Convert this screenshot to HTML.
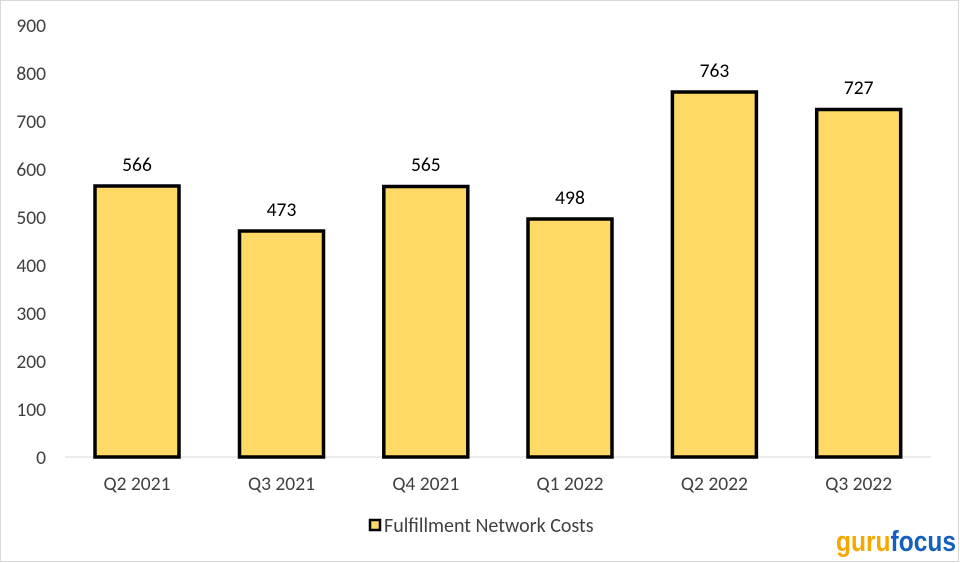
<!DOCTYPE html>
<html><head><style>body{margin:0;background:#fff}svg{display:block}</style></head><body>
<svg width="960" height="563" xmlns="http://www.w3.org/2000/svg" font-family="Calibri, 'Liberation Sans', sans-serif">
<rect x="0.5" y="0.5" width="958" height="561" fill="#fff" stroke="#d9d9d9"/>
<g font-size="19.5" fill="#404040" text-anchor="end">
<text x="46" y="464">0</text><text x="46" y="416">100</text><text x="46" y="368">200</text>
<text x="46" y="320">300</text><text x="46" y="272">400</text><text x="46" y="224">500</text>
<text x="46" y="176">600</text><text x="46" y="128">700</text><text x="46" y="80">800</text><text x="46" y="32">900</text>
</g>
<line x1="65" y1="457" x2="931" y2="457" stroke="#d9d9d9"/>
<g fill="#FFD966" stroke="#000" stroke-width="3.5">
<rect x="95" y="186" width="84" height="271"/>
<rect x="239.5" y="231" width="84" height="226"/>
<rect x="383.8" y="186.5" width="84" height="270.5"/>
<rect x="528" y="219" width="84" height="238"/>
<rect x="672.4" y="92" width="84" height="365"/>
<rect x="816.7" y="109.5" width="84" height="347.5"/>
</g>
<g font-size="19.5" fill="#000" text-anchor="middle">
<text x="137" y="171">566</text><text x="281.5" y="216">473</text><text x="425.8" y="171">565</text>
<text x="570" y="204">498</text><text x="714.4" y="77">763</text><text x="858.7" y="94">727</text>
</g>
<g font-size="19.5" fill="#404040" text-anchor="middle">
<text x="137" y="490">Q2 2021</text><text x="281.5" y="490">Q3 2021</text><text x="425.8" y="490">Q4 2021</text>
<text x="570" y="490">Q1 2022</text><text x="714.4" y="490">Q2 2022</text><text x="858.7" y="490">Q3 2022</text>
</g>
<rect x="370" y="520" width="10" height="10" fill="#FFD966" stroke="#000" stroke-width="2.5"/>
<text x="384" y="532" font-size="20" fill="#404040">Fulfillment Network Costs</text>
<text x="836" y="551" font-size="29" font-weight="bold" fill="#f5a800" font-family="'Liberation Sans Narrow','Liberation Sans',sans-serif" textLength="120" lengthAdjust="spacingAndGlyphs">guru<tspan fill="#1560bd">focus</tspan></text>
</svg>
</body></html>
